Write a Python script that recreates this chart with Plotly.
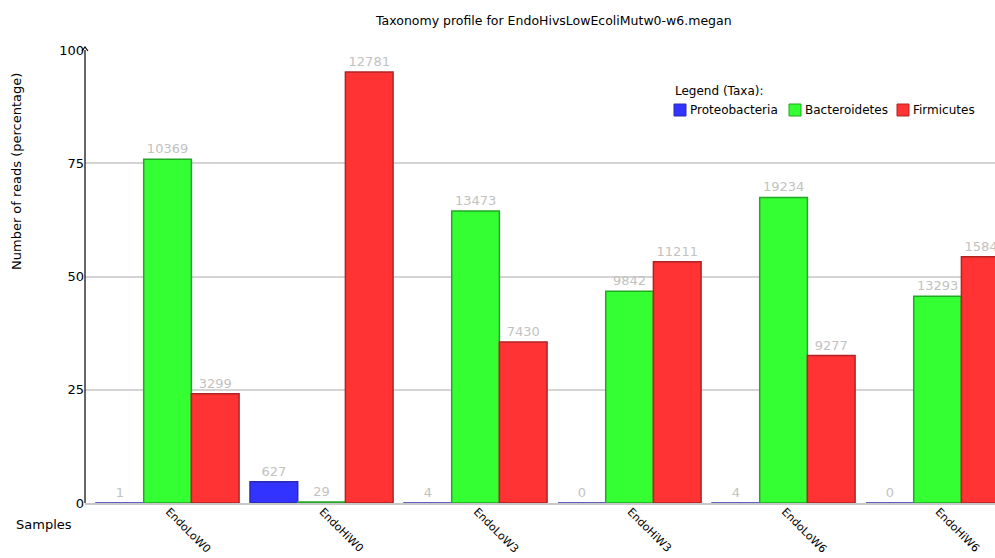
import plotly.graph_objects as go

# Read counts per sample for each taxon
samples = ["EndoLoW0", "EndoHiW0", "EndoLoW3", "EndoHiW3", "EndoLoW6", "EndoHiW6"]
proteobacteria = [1, 627, 4, 0, 4, 0]
bacteroidetes = [10369, 29, 13473, 9842, 19234, 13293]
firmicutes = [3299, 12781, 7430, 11211, 9277, 15845]
y_ticks = [0, 25, 50, 75, 100]

taxa = [
    ("Proteobacteria", proteobacteria, "#3333ff", "#2a2ab0"),
    ("Bacteroidetes", bacteroidetes, "#33ff33", "#22a822"),
    ("Firmicutes", firmicutes, "#ff3333", "#b02424"),
]

totals = [sum(v) for v in zip(proteobacteria, bacteroidetes, firmicutes)]

W, H = 995, 558
# plot box in pixels: left, right, top, bottom
PL, PR, PT, PB = 85, 995, 50, 503


def px(x):
    return x / W


def py(y):
    return 1 - y / H


FONT = "DejaVu Sans"

fig = go.Figure()
for name, counts, fill, edge in taxa:
    pct = [100.0 * c / t for c, t in zip(counts, totals)]
    fig.add_trace(go.Bar(
        name=name, x=samples, y=pct,
        text=[str(c) for c in counts], textposition="outside",
        textfont=dict(family=FONT, size=13, color="#c2c2c2"),
        marker=dict(color=fill, line=dict(color=edge, width=1.5)),
        cliponaxis=False, showlegend=False,
    ))

shapes = [
    # y axis line with arrow head
    dict(type="line", xref="paper", yref="y", x0=px(PL), x1=px(PL), y0=0, y1=100.8,
         line=dict(color="black", width=1.2)),
    dict(type="path", xref="paper", yref="paper",
         path=f"M {px(PL - 3)} {py(51)} L {px(PL)} {py(47)} L {px(PL + 3)} {py(51)}",
         line=dict(color="black", width=1.2)),
]

annotations = [
    dict(text="Taxonomy profile for EndoHivsLowEcoliMutw0-w6.megan", xref="paper", yref="paper",
         x=px(553), y=py(20), xanchor="center", yanchor="middle", showarrow=False,
         font=dict(family=FONT, size=12.5, color="black")),
    dict(text="Number of reads (percentage)", textangle=-90, xref="paper", yref="paper",
         x=px(16), y=py(172), xanchor="center", yanchor="middle", showarrow=False,
         font=dict(family=FONT, size=13, color="black")),
    dict(text="Samples", xref="paper", yref="paper", x=px(14), y=py(524),
         xanchor="left", yanchor="middle", showarrow=False,
         font=dict(family=FONT, size=13, color="black")),
    dict(text="Legend (Taxa):", xref="paper", yref="paper", x=px(673), y=py(91),
         xanchor="left", yanchor="middle", showarrow=False,
         font=dict(family=FONT, size=12, color="black")),
]

# slanted sample names under each group
for s in samples:
    annotations.append(dict(text=s, xref="x", yref="paper", x=s, y=py(504),
                            xanchor="left", yanchor="top", xshift=-6, textangle=45,
                            showarrow=False, borderpad=0,
                            font=dict(family=FONT, size=11, color="black")))

# legend row: swatch + label
legend_x = [674, 789, 897]
for (name, _, fill, edge), lx in zip(taxa, legend_x):
    shapes.append(dict(type="rect", xref="paper", yref="paper",
                       x0=px(lx), x1=px(lx + 12), y0=py(116), y1=py(104),
                       fillcolor=fill, line=dict(color=edge, width=1)))
    annotations.append(dict(text=name, xref="paper", yref="paper", x=px(lx + 14), y=py(110),
                            xanchor="left", yanchor="middle", showarrow=False,
                            font=dict(family=FONT, size=12, color="black")))

fig.update_layout(
    width=W, height=H,
    margin=dict(l=0, r=0, t=0, b=0, pad=0, autoexpand=False),
    paper_bgcolor="white", plot_bgcolor="white",
    barmode="group", bargap=0.071, bargroupgap=0,
    xaxis=dict(domain=[px(PL), px(PR)], range=[-0.536, 5.373], showticklabels=False,
               showgrid=False, ticks="", showline=True, linecolor="#c8c8c8", linewidth=1.5,
               zeroline=False, automargin=False),
    yaxis=dict(domain=[py(PB), py(PT)], range=[0, 100], tickvals=y_ticks, ticks="",
               showgrid=True, gridcolor="#d4d4d4", gridwidth=1.5, zeroline=False,
               showline=False, automargin=False,
               tickfont=dict(family=FONT, size=13, color="black")),
    shapes=shapes, annotations=annotations,
)

fig.write_html("out.html")
